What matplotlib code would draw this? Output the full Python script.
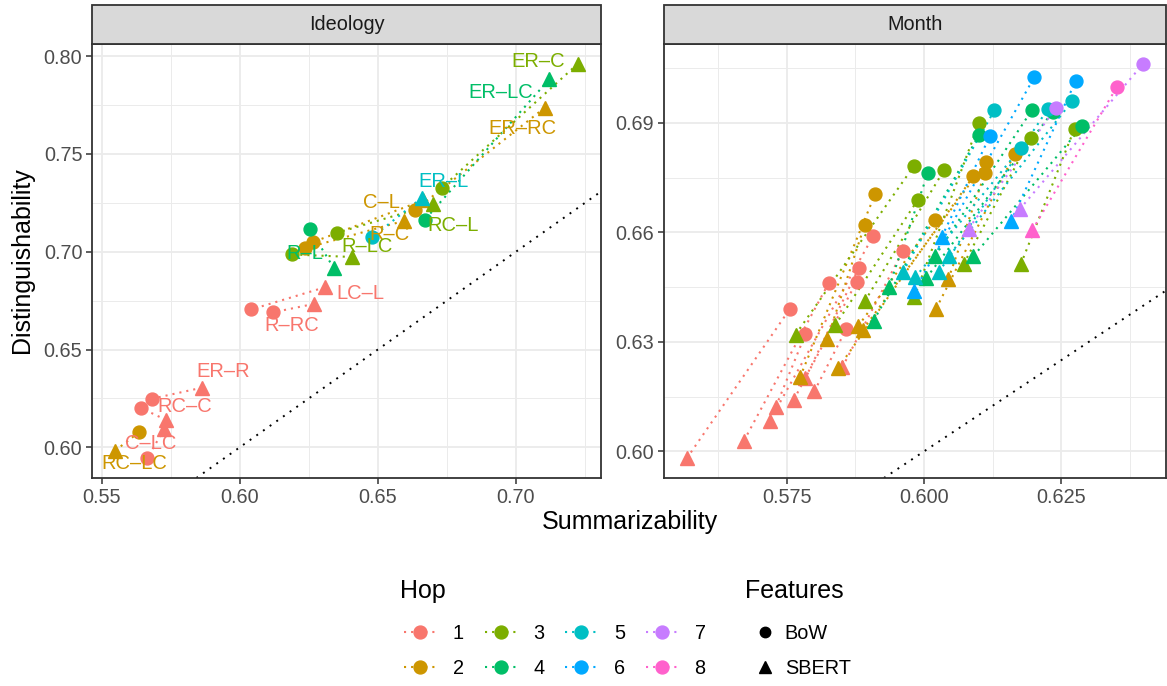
import matplotlib

matplotlib.use("Agg")
import matplotlib.pyplot as plt
from matplotlib.lines import Line2D
from matplotlib.patches import Rectangle
from matplotlib.ticker import MultipleLocator, FormatStrFormatter

plt.rcParams["font.family"] = ["Liberation Sans", "DejaVu Sans"]

# ---------------------------------------------------------------------------
# Data
# ---------------------------------------------------------------------------

HOP_COLORS = ["#F8766D", "#CD9600", "#7CAE00", "#00BE67",
              "#00BFC4", "#00A9FF", "#C77CFF", "#FF61CC"]
HOP_LEVELS = [1, 2, 3, 4, 5, 6, 7, 8]

# Ideology facet: one BoW point and one SBERT point per pair
ideo_pair = ["ER–R", "RC–C", "C–LC", "R–RC", "LC–L",
             "ER–RC", "C–L", "R–C", "RC–LC",
             "ER–C", "RC–L", "R–LC",
             "ER–LC", "R–L",
             "ER–L"]
ideo_hop = [1, 1, 1, 1, 1, 2, 2, 2, 2, 3, 3, 3, 4, 4, 5]
ideo_bow_x = [0.5681, 0.5641, 0.5665, 0.6121, 0.6042,
              0.6633, 0.6265, 0.6235, 0.5635,
              0.6731, 0.6353, 0.6189,
              0.6669, 0.6253,
              0.6480]
ideo_bow_y = [0.6248, 0.6202, 0.5944, 0.6690, 0.6705,
              0.7211, 0.7049, 0.7017, 0.6077,
              0.7327, 0.7097, 0.6986,
              0.7162, 0.7118,
              0.7075]
ideo_sbert_x = [0.5864, 0.5733, 0.5727, 0.6268, 0.6308,
                0.7104, 0.6663, 0.6593, 0.5549,
                0.7224, 0.6700, 0.6406,
                0.7120, 0.6341,
                0.6660]
ideo_sbert_y = [0.6305, 0.6140, 0.6094, 0.6733, 0.6818,
                0.7736, 0.7262, 0.7157, 0.5983,
                0.7961, 0.7242, 0.6973,
                0.7881, 0.6915,
                0.7276]

# Month facet
month_hop = [1] * 8 + [2] * 7 + [3] * 6 + [4] * 5 + [5] * 4 + [6] * 3 + [7] * 2 + [8]
month_bow_x = [0.5756, 0.5826, 0.5784, 0.5907, 0.5881, 0.5877, 0.5858, 0.5961,
               0.5911, 0.5892, 0.6020, 0.6090, 0.6112, 0.6111, 0.6165,
               0.5982, 0.5989, 0.6037, 0.6100, 0.6194, 0.6274,
               0.6007, 0.6100, 0.6196, 0.6234, 0.6288,
               0.6128, 0.6176, 0.6225, 0.6270,
               0.6120, 0.6201, 0.6276,
               0.6399, 0.6240,
               0.6351]
month_bow_y = [0.6391, 0.6460, 0.6321, 0.6589, 0.6502, 0.6464, 0.6334, 0.6548,
               0.6705, 0.6621, 0.6635, 0.6754, 0.6792, 0.6763, 0.6815,
               0.6783, 0.6690, 0.6772, 0.6900, 0.6859, 0.6884,
               0.6763, 0.6866, 0.6934, 0.6930, 0.6891,
               0.6934, 0.6831, 0.6937, 0.6960,
               0.6864, 0.7026, 0.7014,
               0.7062, 0.6941,
               0.6998]
month_sbert_x = [0.5568, 0.5672, 0.5730, 0.5719, 0.5784, 0.5763, 0.5800, 0.5851,
                 0.5774, 0.5824, 0.5880, 0.5843, 0.5888, 0.6044, 0.6022,
                 0.5766, 0.5838, 0.5892, 0.5982, 0.6072, 0.6176,
                 0.5936, 0.5908, 0.6020, 0.6004, 0.6090,
                 0.5961, 0.5984, 0.6027, 0.6046,
                 0.6032, 0.5982, 0.6158,
                 0.6174, 0.6081,
                 0.6197]
month_sbert_y = [0.5981, 0.6029, 0.6122, 0.6084, 0.6201, 0.6142, 0.6164, 0.6230,
                 0.6203, 0.6309, 0.6343, 0.6227, 0.6332, 0.6471, 0.6391,
                 0.6320, 0.6345, 0.6411, 0.6422, 0.6513, 0.6512,
                 0.6450, 0.6358, 0.6535, 0.6475, 0.6535,
                 0.6491, 0.6477, 0.6491, 0.6535,
                 0.6587, 0.6439, 0.6630,
                 0.6663, 0.6610,
                 0.6606]

# label placement (offset in points from the SBERT marker)
LABEL_OFFSET = {
    "ER–C": (-28.6, 1.8), "ER–LC": (-34.8, -9.6), "ER–RC": (-15.9, -14.9),
    "ER–L": (15.3, 12.0), "C–L": (-29.6, -1.7), "RC–L": (14.5, -14.9),
    "R–C": (-10.3, -9.6), "R–LC": (10.9, 7.9), "R–L": (-21.1, 10.6),
    "LC–L": (25.6, -4.2), "R–RC": (-15.7, -15.2), "ER–R": (15.3, 11.3),
    "RC–C": (13.3, 9.7), "C–LC": (-9.7, -10.8), "RC–LC": (14.1, -9.2),
}

# ---------------------------------------------------------------------------
# Style
# ---------------------------------------------------------------------------

W, H = 1167, 686
DOT = (0, (1, 2.4))
GRID = "#EBEBEB"
DARK = "#333333"
TICK_TXT = "#4D4D4D"
PT_SIZE = 9.3
SMALL = 14.3   # tick labels, strip text, legend labels
BIG = 18       # axis and legend titles


def _expand(vals_a, vals_b, frac=0.05):
    lo = min(min(vals_a), min(vals_b))
    hi = max(max(vals_a), max(vals_b))
    pad = (hi - lo) * frac
    return lo - pad, hi + pad


def draw_panel(ax, title, hop, bx, by, sx, sy, xstep, ystep, xfmt, yfmt):
    for h, x0, y0, x1, y1 in zip(hop, sx, sy, bx, by):
        ax.plot([x0, x1], [y0, y1], color=HOP_COLORS[h - 1], ls=DOT,
                lw=1.5, zorder=2)
    for h, x0, y0, x1, y1 in zip(hop, sx, sy, bx, by):
        c = HOP_COLORS[h - 1]
        ax.plot(x1, y1, marker="o", ms=PT_SIZE, color=c, mec=c, ls="none", zorder=3)
        ax.plot(x0, y0, marker="^", ms=PT_SIZE + 0.6, color=c, mec=c, ls="none", zorder=3)

    ax.set_xlim(*_expand(bx, sx))
    ax.set_ylim(*_expand(by, sy))
    ax.axline((0.6, 0.6), slope=1, color="black", ls=(0, (1, 3.2)), lw=1.4, zorder=1)

    ax.xaxis.set_major_locator(MultipleLocator(xstep))
    ax.xaxis.set_minor_locator(MultipleLocator(xstep / 2))
    ax.yaxis.set_major_locator(MultipleLocator(ystep))
    ax.yaxis.set_minor_locator(MultipleLocator(ystep / 2))
    ax.xaxis.set_major_formatter(FormatStrFormatter(xfmt))
    ax.yaxis.set_major_formatter(FormatStrFormatter(yfmt))
    ax.grid(which="major", color=GRID, lw=1.3, zorder=0)
    ax.grid(which="minor", color=GRID, lw=0.7, zorder=0)
    ax.set_axisbelow(True)
    ax.tick_params(which="major", length=4, width=1.1, color=DARK,
                   labelsize=SMALL, labelcolor=TICK_TXT, pad=3)
    ax.tick_params(which="minor", length=0)
    for sp in ax.spines.values():
        sp.set_color(DARK)
        sp.set_linewidth(1.3)

    # facet strip
    strip_h = 39 / 434
    ax.add_patch(Rectangle((0, 1), 1, strip_h, transform=ax.transAxes,
                           facecolor="#D9D9D9", edgecolor=DARK, lw=1.3,
                           clip_on=False, zorder=5))
    ax.text(0.5, 1 + strip_h / 2, title, transform=ax.transAxes,
            ha="center", va="center", fontsize=SMALL, color="#1A1A1A", zorder=6)


fig = plt.figure(figsize=(W / 100, H / 100), dpi=100)
ax1 = fig.add_axes([92 / W, 1 - 478 / H, 509 / W, 434 / H])
ax2 = fig.add_axes([664 / W, 1 - 478 / H, 502 / W, 434 / H])

draw_panel(ax1, "Ideology", ideo_hop, ideo_bow_x, ideo_bow_y,
           ideo_sbert_x, ideo_sbert_y, 0.05, 0.05, "%.2f", "%.2f")
draw_panel(ax2, "Month", month_hop, month_bow_x, month_bow_y,
           month_sbert_x, month_sbert_y, 0.025, 0.03, "%.3f", "%.2f")

for name, h, x, y in zip(ideo_pair, ideo_hop, ideo_sbert_x, ideo_sbert_y):
    dx, dy = LABEL_OFFSET[name]
    ax1.annotate(name, (x, y), xytext=(dx, dy), textcoords="offset points",
                 ha="center", va="center", fontsize=14.5,
                 color=HOP_COLORS[h - 1], zorder=4)

fig.text(629.5 / W, 1 - 522 / H, "Summarizability", ha="center", va="center",
         fontsize=BIG)
fig.text(22 / W, 1 - 260 / H, "Distinguishability", ha="center", va="center",
         rotation=90, fontsize=BIG)

# ---- legends ----
fig.text(400 / W, 1 - 591 / H, "Hop", ha="left", va="center", fontsize=BIG)
fig.text(745 / W, 1 - 591 / H, "Features", ha="left", va="center", fontsize=BIG)

hop_handles = [Line2D([], [], color=c, ls=DOT, lw=1.5, marker="o", ms=PT_SIZE)
               for c in HOP_COLORS]
fig.legend(hop_handles, [str(h) for h in HOP_LEVELS], ncol=4,
           loc="upper left", bbox_to_anchor=(404 / W, 1 - 624 / H),
           frameon=False, fontsize=SMALL,
           handlelength=1.6, handletextpad=0.85, columnspacing=1.05,
           labelspacing=0.81, borderpad=0, borderaxespad=0)

feat_handles = [Line2D([], [], color="black", ls="none", marker="o", ms=7.5),
                Line2D([], [], color="black", ls="none", marker="^", ms=8.5)]
fig.legend(feat_handles, ["BoW", "SBERT"], ncol=1,
           loc="upper left", bbox_to_anchor=(756 / W, 1 - 624 / H),
           frameon=False, fontsize=SMALL,
           handlelength=0.9, handletextpad=0.55, labelspacing=0.81,
           borderpad=0, borderaxespad=0)

fig.savefig("out.png", dpi=100)
plt.close(fig)
